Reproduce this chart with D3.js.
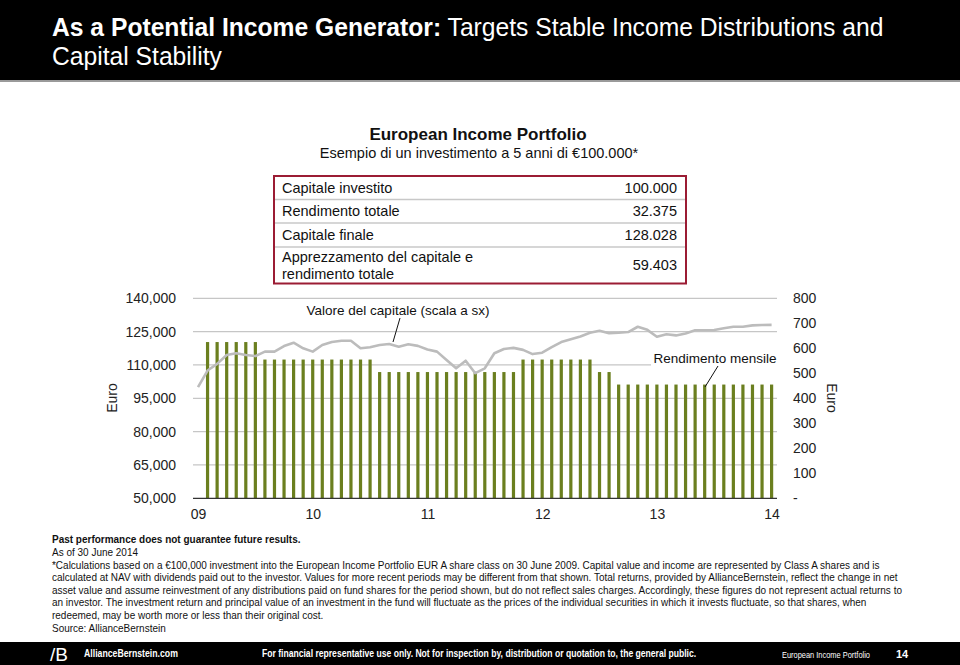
<!DOCTYPE html>
<html>
<head>
<meta charset="utf-8">
<script src="https://cdn.jsdelivr.net/npm/d3@7"></script>
<style>
  body { margin:0; background:#fff; }
  svg text { font-family: "Liberation Sans", Arial, sans-serif; }
</style>
</head>
<body>
<svg id="chart" width="960" height="665"></svg>
<script>
// capital value (EUR), month-end from Jun 2009 to Jun 2014
let capitalValue = [
  100000, 107500, 110500, 114500, 115300, 114500, 114000, 116000, 116000, 118500,
  120000, 117500, 116000, 119000, 120300, 120900, 120900, 117500, 118000, 119000,
  119400, 118200, 119300, 118600, 117000, 116000, 112200, 108500, 111900, 106300,
  108500, 115300, 117200, 117700, 116800, 114900, 115500, 118000, 120300, 121600,
  122800, 124500, 125400, 124300, 124500, 124800, 127200, 125800, 122700, 123800,
  123300, 124200, 125600, 125600, 125700, 126500, 127200, 127200, 127800, 128000,
  128028
];
// monthly income (EUR), Jul 2009 to Jun 2014
let monthlyIncome = [
  625, 625, 625, 625, 625, 625,
  555, 555, 555, 555, 555, 555, 555, 555, 555, 555, 555, 555,
  505, 505, 505, 505, 505, 505, 505, 505, 505, 505, 505, 505, 505, 505, 505,
  555, 555, 555, 555, 555, 555, 555, 555,
  505, 505,
  455, 455, 455, 455, 455, 455, 455, 455, 455, 455, 455, 455, 455, 455, 455, 455, 455
];
let yearLabels = ["09", "10", "11", "12", "13", "14"];
let leftTicks = [50000, 65000, 80000, 95000, 110000, 125000, 140000];
let rightTicks = [0, 100, 200, 300, 400, 500, 600, 700, 800];

let tableRows = [
  ["Capitale investito", "100.000"],
  ["Rendimento totale", "32.375"],
  ["Capitale finale", "128.028"],
  ["Apprezzamento del capitale e|rendimento totale", "59.403"]
];

let footLines = [
  "As of 30 June 2014",
  "*Calculations based on a €100,000 investment into the European Income Portfolio EUR A share class on 30 June 2009. Capital value and income are represented by Class A shares and is",
  "calculated at NAV with dividends paid out to the investor. Values for more recent periods may be different from that shown. Total returns, provided by AllianceBernstein, reflect the change in net",
  "asset value and assume reinvestment of any distributions paid on fund shares for the period shown, but do not reflect sales charges. Accordingly, these figures do not represent actual returns to",
  "an investor. The investment return and principal value of an investment in the fund will fluctuate as the prices of the individual securities in which it invests fluctuate, so that shares, when",
  "redeemed, may be worth more or less than their original cost.",
  "Source: AllianceBernstein"
];

let svg = d3.select("#chart");

// squeeze a text horizontally (the original uses a condensed face)
function squeeze(sel, k) {
  let x0 = +sel.attr("x");
  sel.attr("transform", "translate(" + x0 + ",0) scale(" + k + ",1) translate(" + (-x0) + ",0)");
}
function fitWidth(sel, w) {
  let k = w / sel.node().getComputedTextLength();
  squeeze(sel, k);
  return k;
}

// ---- header bar
svg.append("rect").attr("x",0).attr("y",0).attr("width",960).attr("height",81).attr("fill","#000");
svg.append("rect").attr("x",0).attr("y",80).attr("width",960).attr("height",2).attr("fill","#9a9a9a");
let t1 = svg.append("text").attr("x",52).attr("y",36)
  .attr("fill","#fff").style("font-size","26px");
t1.append("tspan").attr("font-weight","bold").text("As a Potential Income Generator:");
t1.append("tspan").text(" Targets Stable Income Distributions and");
let kTitle = fitWidth(t1, 832);
let t2 = svg.append("text").attr("x",52).attr("y",65)
  .attr("fill","#fff").style("font-size","26px").text("Capital Stability");
squeeze(t2, kTitle);

// ---- summary table
svg.append("text").attr("x",478).attr("y",140).attr("text-anchor","middle")
  .attr("font-weight","bold").style("font-size","17px").attr("fill","#111").text("European Income Portfolio");
svg.append("text").attr("x",479).attr("y",158).attr("text-anchor","middle")
  .style("font-size","14.5px").attr("fill","#111").text("Esempio di un investimento a 5 anni di €100.000*");

let rowY = [176, 199.5, 223, 247, 283.5];
let tbl = svg.append("g");
tableRows.forEach((r, i) => {
  if (i > 0) tbl.append("line").attr("x1",274).attr("x2",686).attr("y1",rowY[i]).attr("y2",rowY[i])
    .attr("stroke","#c8c8c8").attr("stroke-width",1.5);
  let parts = r[0].split("|");
  let mid = (rowY[i] + rowY[i+1]) / 2;
  parts.forEach((p, k) => {
    tbl.append("text").attr("x",282).attr("y", mid + 5 + (k - (parts.length-1)/2) * 17)
      .style("font-size","14.5px").attr("fill","#111").text(p);
  });
  tbl.append("text").attr("x",677).attr("y",mid + 5).attr("text-anchor","end")
    .style("font-size","14.5px").attr("fill","#111").text(r[1]);
});
tbl.append("rect").attr("x",274).attr("y",176).attr("width",412).attr("height",107.5)
  .attr("fill","none").attr("stroke","#9b1c34").attr("stroke-width",2);

// ---- chart scales
let x = d3.scaleLinear().domain([0, capitalValue.length - 1]).range([198, 771.6]);
let yL = d3.scaleLinear().domain([50000, 140000]).range([498.3, 298.3]);
let yR = d3.scaleLinear().domain([0, 800]).range([498.3, 298.3]);

// gridlines
svg.append("g").selectAll("line").data(leftTicks.slice(1)).join("line")
  .attr("x1",193).attr("x2",777).attr("y1",d=>yL(d)).attr("y2",d=>yL(d))
  .attr("stroke","#c6c6c6").attr("stroke-width",1.2);

// label background for "Rendimento mensile"
svg.append("rect").attr("x",651).attr("y",349).attr("width",130).attr("height",18).attr("fill","#fff");

// bars
svg.append("g").selectAll("rect").data(monthlyIncome).join("rect")
  .attr("x",(d,i)=>x(i+1)-1.6).attr("width",3.2)
  .attr("y",d=>yR(d)).attr("height",d=>yR(0)-yR(d))
  .attr("fill","#6b7f1f");

// capital line
let line = d3.line().x((d,i)=>x(i)).y(d=>yL(d));
svg.append("path").datum(capitalValue).attr("d",line)
  .attr("fill","none").attr("stroke","#bcbcbc").attr("stroke-width",2.6).attr("stroke-linejoin","round");

// baseline
svg.append("line").attr("x1",193).attr("x2",777).attr("y1",yL(50000)).attr("y2",yL(50000))
  .attr("stroke","#333").attr("stroke-width",1.2);

// axes
let axL = svg.append("g").attr("transform","translate(176,0)")
  .call(d3.axisLeft(yL).tickValues(leftTicks).tickFormat(d3.format(",")).tickSize(0).tickPadding(0));
let axR = svg.append("g").attr("transform","translate(793,0)")
  .call(d3.axisRight(yR).tickValues(rightTicks).tickFormat(d => d === 0 ? "-" : d).tickSize(0).tickPadding(0));
let axB = svg.append("g").attr("transform","translate(0,509)")
  .call(d3.axisBottom(x).tickValues(yearLabels.map((d,i)=>i*12)).tickFormat((d,i)=>yearLabels[i]).tickSize(0).tickPadding(0));
[axL, axR, axB].forEach(a => {
  a.select(".domain").remove();
  a.selectAll("text").style("font-size","14px").attr("fill","#222")
    .style("font-family","'Liberation Sans', Arial, sans-serif");
});

svg.append("text").attr("transform","translate(117,398) rotate(-90)").attr("text-anchor","middle")
  .style("font-size","14px").attr("fill","#222").text("Euro");
svg.append("text").attr("transform","translate(827,398) rotate(90)").attr("text-anchor","middle")
  .style("font-size","14px").attr("fill","#222").text("Euro");

// annotations
svg.append("text").attr("x",398).attr("y",315).attr("text-anchor","middle")
  .style("font-size","13.5px").attr("fill","#111").text("Valore del capitale (scala a sx)");
svg.append("line").attr("x1",400).attr("y1",318).attr("x2",393).attr("y2",342).attr("stroke","#111");
svg.append("text").attr("x",715).attr("y",363).attr("text-anchor","middle")
  .style("font-size","13.5px").attr("fill","#111").text("Rendimento mensile");
svg.append("line").attr("x1",718).attr("y1",366).attr("x2",705).attr("y2",387).attr("stroke","#111");

// ---- footnotes
let pp = svg.append("text").attr("x",52).attr("y",543).attr("font-weight","bold")
  .style("font-size","11px").attr("fill","#111").text("Past performance does not guarantee future results.");
let fl = footLines.map((l, i) => svg.append("text").attr("x",52).attr("y",556 + i*12.6)
    .style("font-size","11px").attr("fill","#111").text(l));
let kFoot = fitWidth(fl[1], 828);
fl.forEach((s, i) => { if (i !== 1) squeeze(s, kFoot); });
squeeze(pp, kFoot);

// ---- footer
svg.append("rect").attr("x",0).attr("y",642).attr("width",960).attr("height",23).attr("fill","#000");
svg.append("text").attr("x",50).attr("y",661).attr("fill","#fff").style("font-size","19px")
  .attr("font-weight","300").text("/B");
let f1 = svg.append("text").attr("x",84).attr("y",657).attr("fill","#fff")
  .attr("font-weight","bold").style("font-size","10.5px").text("AllianceBernstein.com");
fitWidth(f1, 94);
let f2 = svg.append("text").attr("x",262).attr("y",657).attr("fill","#fff")
  .attr("font-weight","bold").style("font-size","10.5px")
  .text("For financial representative use only. Not for inspection by, distribution or quotation to, the general public.");
fitWidth(f2, 435);
let f3 = svg.append("text").attr("x",782).attr("y",658).attr("fill","#fff")
  .style("font-size","9px").text("European Income Portfolio");
fitWidth(f3, 88);
svg.append("text").attr("x",896).attr("y",658).attr("fill","#fff")
  .attr("font-weight","bold").style("font-size","11px").text("14");
</script>
</body>
</html>
